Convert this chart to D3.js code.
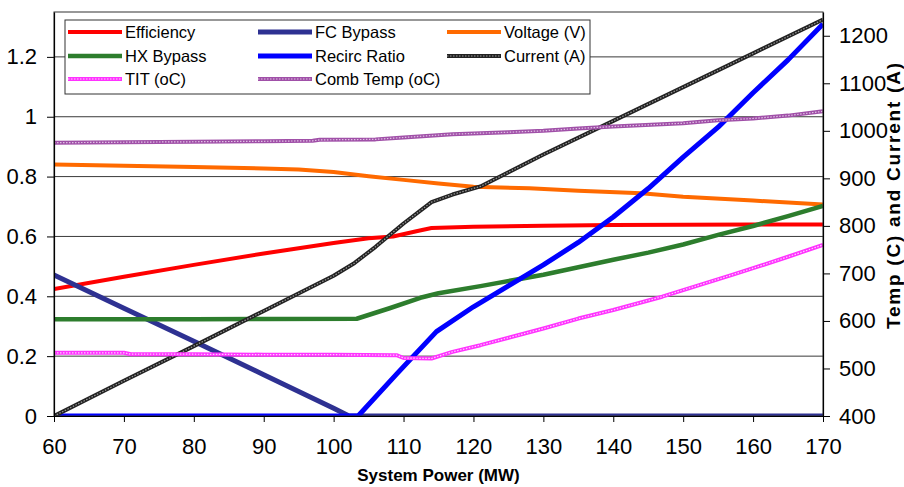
<!DOCTYPE html>
<html>
<head>
<meta charset="utf-8">
<script src="https://d3js.org/d3.v7.min.js"></script>
<style>
  body { margin: 0; background: #fff; }
  text { font-family: "Liberation Sans", Arial, sans-serif; fill: #000; }
  .tick text { font-size: 22px; }
  .axis-title { font-size: 17px; font-weight: bold; }
  .legend text { font-size: 16.5px; }
</style>
</head>
<body>
<svg width="904" height="487"></svg>
<script>
// values: [system power MW, value]
const efficiency = [[60,0.424],[70,0.465],[80,0.505],[90,0.543],[100,0.578],[105,0.594],[108.5,0.60],[112,0.618],[114,0.628],[120,0.632],[130,0.636],[140,0.638],[150,0.639],[160,0.64],[170,0.64]];
const fcBypass = [[60,0.471],[70,0.36],[80,0.25],[90,0.138],[100,0.026],[102.2,0],[170,0]];
const voltage = [[60,0.84],[70,0.836],[80,0.832],[90,0.827],[95,0.824],[100,0.815],[105,0.801],[110,0.789],[115,0.777],[120,0.766],[128,0.761],[135,0.753],[144,0.744],[150,0.733],[160,0.72],[170,0.707]];
const hxBypass = [[60,0.323],[80,0.323],[90,0.324],[103.3,0.325],[108,0.36],[112.4,0.395],[115,0.41],[121,0.434],[130,0.472],[135,0.497],[140,0.522],[145,0.546],[150,0.573],[155,0.605],[160,0.635],[165,0.668],[170,0.702]];
const recircRatio = [[60,0],[103.5,0],[109,0.14],[114.7,0.282],[120,0.365],[125,0.435],[130,0.505],[135,0.58],[140,0.665],[145,0.76],[150,0.865],[155,0.965],[160,1.08],[165,1.19],[170,1.31]];
const current = [[60,400],[70,474],[80,547],[90,621],[100,695],[103,722],[106,756],[110,805],[114,850],[117,866],[121,883],[130,950],[140,1021],[150,1092],[160,1163],[170,1234]];
const tit = [[60,533],[70,533],[71,530],[80,530],[90,529],[100,529],[109,528],[110,522],[114,521],[117,535],[121,549],[130,584],[135,605],[140,623],[147,651],[150,665],[157,697],[160,711],[165,735],[170,760]];
const combTemp = [[60,975],[70,976],[80,977],[90,978],[97,979],[98,981],[106,982],[110,986],[117,993],[125,997],[130,1000],[135,1005],[140,1009],[150,1016],[155,1022],[160,1026],[165,1032],[170,1041]];

const xTicks = [60,70,80,90,100,110,120,130,140,150,160,170];
const leftTicks = [0,0.2,0.4,0.6,0.8,1,1.2];
const rightTicks = [400,500,600,700,800,900,1000,1100,1200];

const series = [
  { name: 'Efficiency', data: efficiency, axis: 'L', color: '#ff0000', w: 4 },
  { name: 'FC Bypass', data: fcBypass, axis: 'L', color: '#2e3192', w: 5 },
  { name: 'Voltage (V)', data: voltage, axis: 'L', color: '#ff6a00', w: 4 },
  { name: 'HX Bypass', data: hxBypass, axis: 'L', color: '#2d7d2d', w: 4.5 },
  { name: 'Recirc Ratio', data: recircRatio, axis: 'L', color: '#0000ff', w: 5 },
  { name: 'Current (A)', data: current, axis: 'R', color: '#222222', w: 4, tex: '#9a9a9a' },
  { name: 'TIT (oC)', data: tit, axis: 'R', color: '#ff33ff', w: 4, tex: '#ffd0ff' },
  { name: 'Comb Temp (oC)', data: combTemp, axis: 'R', color: '#a050a8', w: 4, tex: '#e0c0e4' }
];

const svg = d3.select('svg');
const pLeft = 54, pRight = 823, pTop = 12, pBottom = 416;

const x = d3.scaleLinear().domain([60, 170]).range([pLeft, pRight]);
const yL = d3.scaleLinear().domain([0, 1.35]).range([pBottom, pTop]);
const yR = d3.scaleLinear().domain([400, 1250]).range([pBottom, pTop]);

svg.append('clipPath').attr('id', 'plot')
  .append('rect').attr('x', pLeft).attr('y', pTop)
  .attr('width', pRight - pLeft).attr('height', pBottom - pTop);

// gridlines
svg.append('g').selectAll('line').data(leftTicks.filter(d => d > 0)).enter()
  .append('line')
  .attr('x1', pLeft).attr('x2', pRight)
  .attr('y1', d => yL(d)).attr('y2', d => yL(d))
  .attr('stroke', '#3a3a3a').attr('stroke-width', 1);

// series
const lines = svg.append('g').attr('clip-path', 'url(#plot)');
series.forEach(s => {
  const y = s.axis === 'L' ? yL : yR;
  const line = d3.line().x(d => x(d[0])).y(d => y(d[1]));
  lines.append('path').datum(s.data)
    .attr('d', line).attr('fill', 'none')
    .attr('stroke', s.color).attr('stroke-width', s.w)
    .attr('stroke-linejoin', 'round');
  if (s.tex) {
    lines.append('path').datum(s.data)
      .attr('d', line).attr('fill', 'none')
      .attr('stroke', s.tex).attr('stroke-width', 1.2)
      .attr('stroke-dasharray', '1.5,1.5');
  }
});

// frame
svg.append('rect').attr('x', pLeft).attr('y', pTop)
  .attr('width', pRight - pLeft).attr('height', pBottom - pTop)
  .attr('fill', 'none').attr('stroke', '#333').attr('stroke-width', 1);

// axes
const xAxis = d3.axisBottom(x).tickValues(xTicks).tickSize(6).tickPadding(16).tickSizeOuter(0);
const yAxisL = d3.axisLeft(yL).tickValues(leftTicks).tickSize(7).tickPadding(10).tickSizeOuter(0)
  .tickFormat(d => d3.format('')(d));
const yAxisR = d3.axisRight(yR).tickValues(rightTicks).tickSize(7).tickPadding(9).tickSizeOuter(0)
  .tickFormat(d3.format('d'));

const xG = svg.append('g').attr('transform', `translate(0,${pBottom})`).call(xAxis);
const lG = svg.append('g').attr('transform', `translate(${pLeft},0)`).call(yAxisL);
const rG = svg.append('g').attr('transform', `translate(${pRight},0)`).call(yAxisR);
[xG, lG, rG].forEach(g => {
  g.selectAll('.domain').attr('stroke', '#000').attr('stroke-width', 1.2);
  g.selectAll('.tick line').attr('stroke', '#000');
  g.selectAll('.tick text').attr('fill', '#000').attr('font-size', null);
});

svg.append('text').attr('class', 'axis-title')
  .attr('x', (pLeft + pRight) / 2).attr('y', 481)
  .attr('text-anchor', 'middle')
  .text('System Power (MW)');

svg.append('text').attr('class', 'axis-title')
  .attr('transform', `translate(900,196) rotate(-90)`)
  .attr('text-anchor', 'middle')
  .style('font-size', '19px')
  .attr('textLength', 266).attr('lengthAdjust', 'spacing')
  .text('Temp (C) and Current (A)');

// legend
const legend = svg.append('g').attr('class', 'legend');
legend.append('rect').attr('x', 65).attr('y', 20).attr('width', 525).attr('height', 74)
  .attr('fill', '#fff').attr('stroke', '#333').attr('stroke-width', 1);
const colX = [68, 258, 447], rowY = [32, 56, 79];
series.forEach((s, i) => {
  const cx = colX[i % 3], cy = rowY[Math.floor(i / 3)];
  legend.append('line').attr('x1', cx).attr('x2', cx + 54).attr('y1', cy).attr('y2', cy)
    .attr('stroke', s.color).attr('stroke-width', s.w);
  if (s.tex) {
    legend.append('line').attr('x1', cx).attr('x2', cx + 54).attr('y1', cy).attr('y2', cy)
      .attr('stroke', s.tex).attr('stroke-width', 1.2).attr('stroke-dasharray', '1.5,1.5');
  }
  legend.append('text').attr('x', cx + 57).attr('y', cy).attr('dy', '0.35em').text(s.name);
});
</script>
</body>
</html>
